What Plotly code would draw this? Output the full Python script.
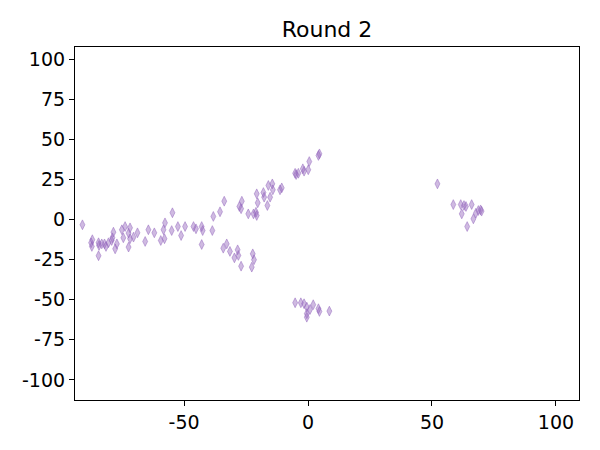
import plotly.graph_objects as go

x_vals = [-91, -87.5, -87, -87.2, -84.5, -84.3, -84.5, -83.2, -82.1, -81.5, -80.5, -79.2, -78.5, -78.9,
          -77.8, -77.1, -75.1, -74.5, -73.8, -72.4, -72.4, -71.8, -71.8, -70.4, -68.8, -65.7, -64.4,
          -62, -59.4, -58.3, -57.7, -57.9, -54.7, -55, -52.5, -51.2, -49.6, -46.2,
          -45.2, -42.9, -42.5, -42.9, -38.6, -38.2, -35.5, -33.8, -34.2, -32.8, -31.5, -29.7, -28.4,
          -28.1, -27, -27.7, -26.7, -27, -24.1, -22.3, -21.8, -22.7, -22, -20.7, -21, -20.7, -20.3,
          -18, -17.7, -16.4, -15.3, -16, -14.4, -14.2, -11.3, -4.8, -3.9,
          -10.6, -5.2, -2.1, -1.6, 0.1, 0.5, 4.2, 4.6,
          -5.2, -2.9, -1.6, -0.5, 0.8, 2.1, -0.5, -0.5, 4.2, 4.6, 8.6,
          52.2, 58.6, 61.6, 62, 62.9, 63.7, 66, 64.2, 66.7, 67.7, 68.7, 69.6, 70]
y_vals = [-3.3, -14.5, -12.6, -16.8, -14.5, -16.2, -22.6, -15.2, -15.2, -16.8, -14.5, -13.1, -7.9, -11.4,
          -18.3, -15.2, -6.4, -11.4, -4.4, -8.5, -17.2, -5.2, -12, -11, -8.3, -13.7, -6.4,
          -8.3, -13.1, -6.4, -2.1, -12, 4.2, -6.9, -4.4, -10, -4.4, -4.4,
          -5.8, -4.4, -6.9, -15.6, -6.9, 1.9, 4.8, 11.4, -17.9, -15.2, -19.9, -23.9, -18.9,
          -22.4, -29.1, 8.1, 11.4, 6.7, 3.5, -21.4, -25.1, -29.7, 3.5, 2.5, 4.5, 16, 10.4,
          16.8, 13.9, 8.7, 13.9, 21.2, 22.2, 18.5, 18.5, 28, 28.8,
          19.7, 28.8, 31.6, 30.1, 31, 36.1, 39.9, 40.9,
          -51.9, -51.9, -52.5, -54.6, -56.1, -53.1, -60.9, -58.7, -55.6, -57.3, -57.1,
          22.2, 9.3, 9.3, 3.5, 8.7, 8.1, 9.3, -4.4, 0.4, 3.9, 5.6, 6, 5.2]

title_text = "Round 2"
x_ticks = [-50, 0, 50, 100]
y_ticks = [-100, -75, -50, -25, 0, 25, 50, 75, 100]

fig = go.Figure()
fig.add_trace(go.Scatter(
    x=x_vals, y=y_vals, mode="markers",
    marker=dict(symbol="diamond-tall", size=7, color="rgba(148,103,189,0.45)",
                line=dict(color="rgba(148,103,189,0.5)", width=1)),
    showlegend=False,
))

axis_common = dict(showline=True, linecolor="black", linewidth=1.2, mirror=True,
                   ticks="outside", ticklen=5, tickwidth=1.2, tickcolor="black",
                   showgrid=False, zeroline=False, automargin=False,
                   tickfont=dict(family="DejaVu Sans", size=19, color="black"))

fig.update_layout(
    width=600, height=450,
    margin=dict(l=67, r=29, t=39, b=58),
    plot_bgcolor="white", paper_bgcolor="white",
    title=dict(text=title_text, x=0.5, xref="paper", xanchor="center",
               y=1, yref="paper", yanchor="bottom", pad=dict(b=10),
               font=dict(family="DejaVu Sans", size=22, color="black")),
    xaxis=dict(range=[-94, 109.3], tickvals=x_ticks, ticktext=[str(v) for v in x_ticks], **axis_common),
    yaxis=dict(range=[-112.5, 107.5], tickvals=y_ticks, ticktext=[str(v) for v in y_ticks], **axis_common),
)

fig.write_html("out.html")
